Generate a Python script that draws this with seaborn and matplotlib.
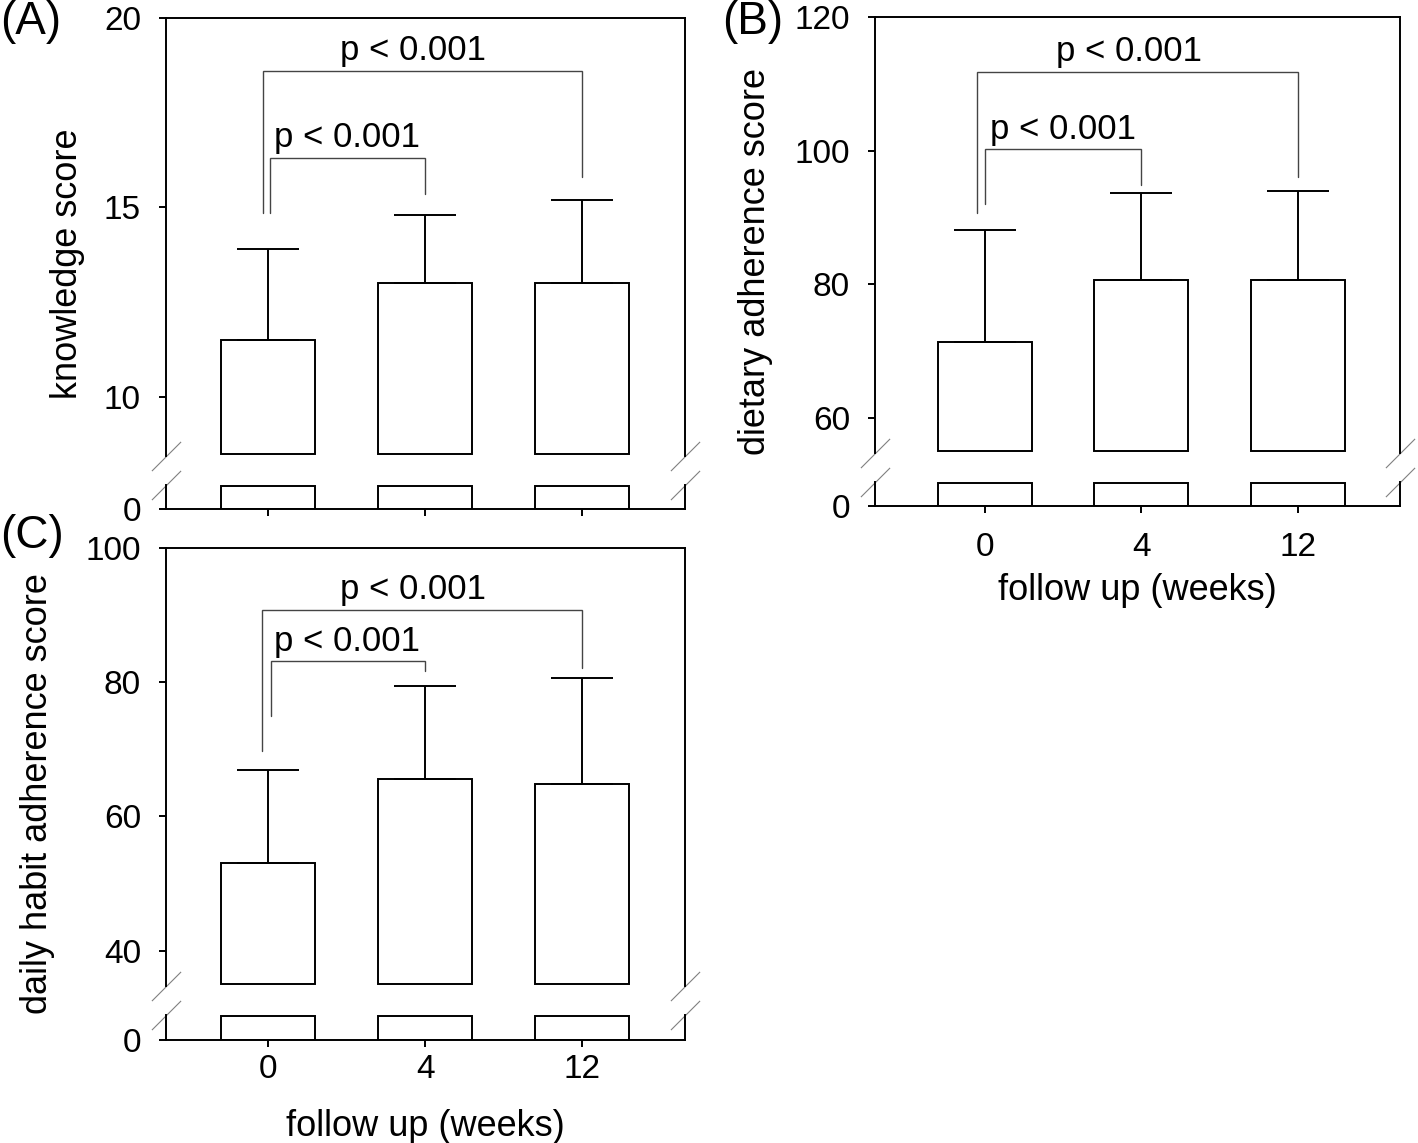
import numpy as np
import seaborn as sns
import matplotlib.pyplot as plt

# follow up time points (weeks)
weeks = ["0", "4", "12"]
p_text = "p < 0.001"
pairs = [(0, 1), (0, 2)]
p_x = [0.5, 0.92]

# (A) knowledge score
know_mean = [11.5, 13.0, 13.0]
know_sd = [2.4, 1.8, 2.2]
know_ticks = [10, 15, 20]
know_br_top = [16.3, 18.6]
know_br_left = [14.85, 14.85]
know_br_right = [15.35, 15.8]
know_p_y = [16.6, 18.9]

# (B) dietary adherence score
diet_mean = [71.3, 80.7, 80.6]
diet_sd = [16.8, 13.0, 13.4]
diet_ticks = [60, 80, 100, 120]
diet_br_top = [100.2, 111.7]
diet_br_left = [92.0, 90.6]
diet_br_right = [94.9, 96.0]
diet_p_y = [101.8, 113.4]

# (C) daily habit adherence score
habit_mean = [53.1, 65.6, 64.9]
habit_sd = [13.8, 13.9, 15.8]
habit_ticks = [40, 60, 80, 100]
habit_br_top = [83.2, 90.8]
habit_br_left = [74.9, 69.7]
habit_br_right = [81.6, 82.1]
habit_p_y = [84.6, 92.4]

sns.set_style("ticks", {"axes.edgecolor": "black", "text.color": "black",
                        "axes.labelcolor": "black", "xtick.color": "black",
                        "ytick.color": "black"})
plt.rcParams["font.family"] = ["Liberation Sans", "DejaVu Sans"]

W, H = 1418, 1143
fig = plt.figure(figsize=(W / 100, H / 100), dpi=100)
LW = 1.4


def px_axes(x0, x1, y0, y1):
    # pixel box (top-left origin) -> figure fraction
    return fig.add_axes([x0 / W, 1 - y1 / H, (x1 - x0) / W, (y1 - y0) / H])


def draw_panel(box, means, sds, brk, top, lo_cut, ticks, br_top, br_left,
               br_right, br_dx, p_y, ylabel, label_px, xlim, xpads=None):
    x0, x1, y_top, y_brk, y_lo, y_bot = box
    up = px_axes(x0, x1, y_top, y_brk)
    lo = px_axes(x0, x1, y_lo, y_bot)
    means = np.asarray(means)

    # upper part: bars start at the axis break
    sns.barplot(x=weeks, y=means - brk, bottom=brk, color="white",
                edgecolor="black", linewidth=LW, saturation=1, width=0.6,
                ax=up)
    up.errorbar(np.arange(len(weeks)), means,
                yerr=[np.zeros(len(weeks)), sds], fmt="none", ecolor="black",
                elinewidth=LW, capsize=22, capthick=LW, zorder=3)

    # lower part: stub of each bar down to zero
    sns.barplot(x=weeks, y=np.minimum(means, lo_cut), color="white",
                edgecolor="black", linewidth=LW, saturation=1, width=0.6,
                ax=lo)

    # significance brackets
    for (i, j), t, lb, rb, dx, px, py in zip(pairs, br_top, br_left, br_right,
                                             br_dx, p_x, p_y):
        up.plot([i + dx, i + dx, j, j], [lb, t, t, rb], color="#444444",
                lw=1.0, solid_joinstyle="miter")
        up.text(px, py, p_text, ha="center", va="baseline", fontsize=25)

    up.set_ylim(brk - 0.005 * (top - brk), top)
    lo.set_ylim(0, lo_cut * 1.05)
    for ax in (up, lo):
        ax.set_xlim(*xlim)
        ax.set_xlabel("")
        for s in ax.spines.values():
            s.set_linewidth(LW)
    up.spines["bottom"].set_visible(False)
    lo.spines["top"].set_visible(False)

    up.set_yticks(ticks)
    up.tick_params(axis="x", bottom=False, labelbottom=False)
    lo.set_yticks([0])
    for ax in (up, lo):
        ax.tick_params(axis="y", direction="out", length=5, width=LW,
                       labelsize=24, pad=13)
    lo.tick_params(axis="x", direction="out", length=5, width=LW,
                   labelsize=24, labelbottom=xpads is not None)
    if xpads is not None:
        lo.tick_params(axis="x", pad=xpads[0])
        lo.set_xlabel("follow up (weeks)", fontsize=26, labelpad=xpads[1])

    # broken-axis diagonals on both spines
    kw = dict(marker=[(-1, -1), (1, 1)], markersize=21, linestyle="none",
              color="gray", mec="gray", mew=0.8, clip_on=False)
    up.plot([0, 1], [0, 0], transform=up.transAxes, **kw)
    lo.plot([0, 1], [1, 1], transform=lo.transAxes, **kw)

    # y label centred on the whole (broken) panel
    up.set_ylabel(ylabel, fontsize=26)
    pu, pl = up.get_position(), lo.get_position()
    mid = (pu.y1 + pl.y0) / 2
    up.yaxis.set_label_coords((label_px - x0) / (x1 - x0),
                              (mid - pu.y0) / pu.height)
    return up, lo


draw_panel((166, 685, 18, 456, 485, 509), know_mean, know_sd, 8.49, 20, 0.6,
           know_ticks, know_br_top, know_br_left, know_br_right,
           [0.015, -0.035], know_p_y, "knowledge score", 85, (-0.65, 2.655))
draw_panel((875, 1400, 17, 453, 482, 506), diet_mean, diet_sd, 55.08, 120, 3.6,
           diet_ticks, diet_br_top, diet_br_left, diet_br_right,
           [0.003, -0.05], diet_p_y, "dietary adherence score", 773,
           (-0.70, 2.65), xpads=(14, 7))
draw_panel((166, 685, 548, 986, 1015, 1040), habit_mean, habit_sd, 35.06, 100,
           3.6, habit_ticks, habit_br_top, habit_br_left, habit_br_right,
           [0.017, -0.037], habit_p_y, "daily habit adherence score", 55,
           (-0.65, 2.655), xpads=(5, 17))

fig.text(0.0, 1.0, "(A)", ha="left", va="top", fontsize=33)
fig.text(722 / W, 1.0, "(B)", ha="left", va="top", fontsize=33)
fig.text(0.0, 1 - 514 / H, "(C)", ha="left", va="top", fontsize=33)

fig.savefig("out.png", dpi=100)
